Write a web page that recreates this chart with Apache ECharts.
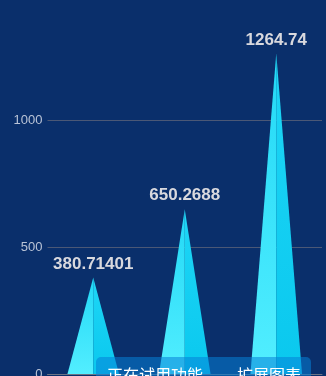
<!DOCTYPE html>
<html><head><meta charset="utf-8">
<script src="https://cdn.jsdelivr.net/npm/echarts@6/dist/echarts.min.js"></script>
<style>
html,body{margin:0;padding:0;background:#0a2f6b;overflow:hidden;}
#c{position:absolute;left:0;top:-20px;width:326px;height:436px;}
#ov{position:absolute;left:96px;top:357px;width:215px;height:40px;border-radius:5px;background:rgba(6,128,215,0.55);font-family:"Noto Sans CJK SC",sans-serif;font-size:16px;color:#fff;}
#ov span{position:absolute;top:9px;line-height:16px;white-space:nowrap;}
</style></head>
<body>
<div id="c"></div>
<div id="ov"><span style="left:11px">正在试用功能</span><span style="left:141px">扩展图表</span></div>
<script>
var categories = ['A', 'B', 'C'];
var values = [380.71401, 650.2688, 1264.74];
var yTicks = [0, 500, 1000, 1500];

var chart = echarts.init(document.getElementById('c'));
function grad(top, bottom){
  return new echarts.graphic.LinearGradient(0,0,0,1,[{offset:0,color:top},{offset:1,color:bottom}]);
}
chart.setOption({
  backgroundColor: '#0a2f6b',
  grid: {left: 47.5, right: 4, top: 14, height: 380, containLabel: false, outerBoundsMode: 'none'},
  xAxis: {
    type: 'category', data: categories,
    axisLine: {lineStyle: {color: '#6b7385'}},
    axisTick: {show: false}, axisLabel: {show: false}
  },
  yAxis: {
    type: 'value', min: yTicks[0], max: yTicks[yTicks.length-1], interval: 500,
    axisLine: {show: false}, axisTick: {show: false},
    axisLabel: {color: '#b9c3d6', fontSize: 13, margin: 5, fontFamily: 'sans-serif', formatter: function(v){ return String(v); }},
    splitLine: {lineStyle: {color: '#4b5876', width: 1}}
  },
  series: [{
    type: 'custom',
    data: values.map(function(v, i){ return [i, v]; }),
    encode: {x: 0, y: 1},
    renderItem: function(params, api){
      var top = api.coord([api.value(0), api.value(1)]);
      var base = api.coord([api.value(0), 0]);
      var band = api.size([1, 0])[0];
      var hw = band * 0.282;
      return {
        type: 'group',
        children: [
          {type: 'polygon', shape: {points: [[top[0], top[1]], [base[0]-hw, base[1]], [base[0], base[1]]]},
           style: {fill: grad('#22d8f6', '#52eeff')}},
          {type: 'polygon', shape: {points: [[top[0], top[1]], [base[0], base[1]], [base[0]+hw, base[1]]]},
           style: {fill: grad('#1ed6f6', '#0ac8ee')}},
          {type: 'text', x: top[0], y: top[1] - 5,
           style: {text: String(api.value(1)), fill: '#d9d9de', font: 'bold 17px sans-serif', align: 'center', verticalAlign: 'bottom'}}
        ]
      };
    }
  }]
});
</script>
</body></html>
